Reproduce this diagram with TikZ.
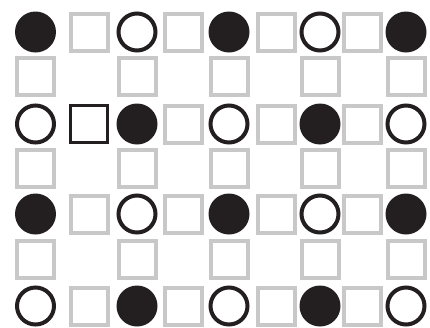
\documentclass[tikz,border=0pt]{standalone}
\usepackage{xcolor}
\definecolor{LatticeInk}{HTML}{231F20}
\definecolor{LatticeGrey}{HTML}{C8C8C8}
\tikzset{
  emptysite/.style={draw=LatticeGrey,line width=4pt},
  marksite/.style={draw=LatticeInk,line width=3.2pt},
  upspin/.style={fill=LatticeInk},
  downspin/.style={draw=LatticeInk,line width=4pt}
}

\begin{document}
\begin{tikzpicture}[x=1pt,y=-1pt]
        \useasboundingbox (0,0) rectangle (430,327);

        % grey squares between the spins
        \foreach \sy in {32,214,306}{
          \foreach \sx in {89,183,276,362}{
            \draw[emptysite]
              (\sx-18.5,\sy-18.5) rectangle (\sx+18.5,\sy+18.5);
          }
        }
        \foreach \sx in {183,276,362}{
          \draw[emptysite]
            (\sx-18.5,124-18.5) rectangle (\sx+18.5,124+18.5);
        }
        \foreach \sy in {76,168,259}{
          \foreach \sx in {35.5,137,229,320,406}{
            \draw[emptysite]
              (\sx-18.5,\sy-18.5) rectangle (\sx+18.5,\sy+18.5);
          }
        }

        % the marked site
        \draw[marksite] (89-18.8,124-18.8) rectangle (89+18.8,124+18.8);

        % filled spins
        \foreach \sx/\sy in {35.5/32,229/32,406/32,137/124,320/124,
          35.5/214,229/214,406/214,137/306,320/306}{
          \fill[upspin] (\sx,\sy) circle[radius=20.5];
        }

        % open spins
        \foreach \sx/\sy in {137/32,320/32,35.5/124,229/124,406/124,
          137/214,320/214,35.5/306,229/306,406/306}{
          \draw[downspin] (\sx,\sy) circle[radius=18.5];
        }
      \end{tikzpicture}
\end{document}
